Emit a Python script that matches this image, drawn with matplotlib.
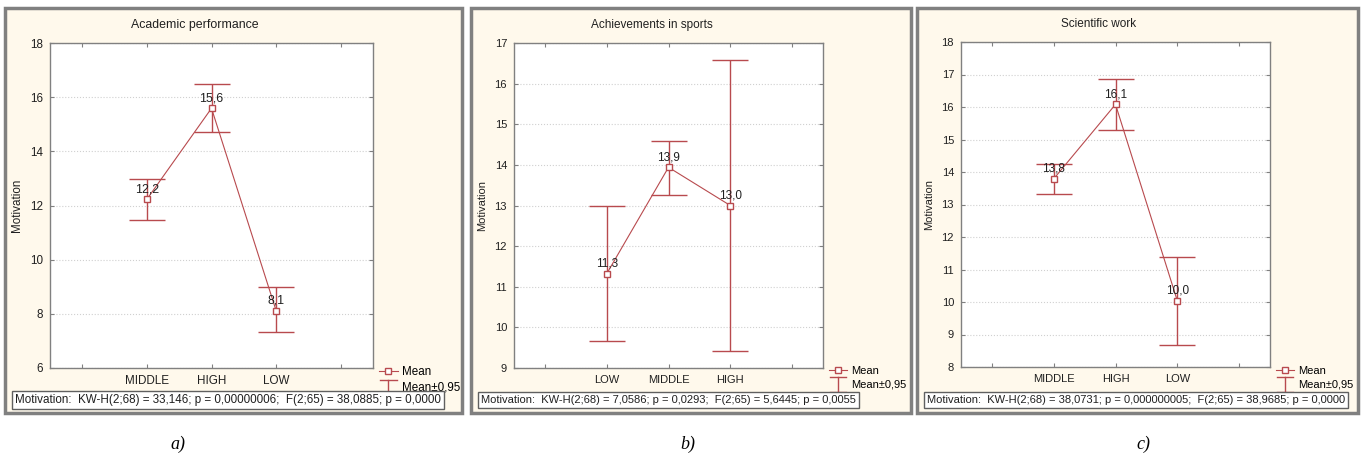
import matplotlib
matplotlib.use("Agg")
import matplotlib.pyplot as plt
from matplotlib.lines import Line2D
from matplotlib.patches import Rectangle
from matplotlib.legend_handler import HandlerBase

plt.rcParams['font.family'] = ['Liberation Sans', 'DejaVu Sans']

## data
titles = ["Academic performance", "Achievements in sports", "Scientific work"]
groups = [["MIDDLE", "HIGH", "LOW"],
          ["LOW", "MIDDLE", "HIGH"],
          ["MIDDLE", "HIGH", "LOW"]]
means = [[12.23, 15.59, 8.12],
         [11.32, 13.94, 13.00],
         [13.79, 16.08, 10.04]]
ci_low = [[11.45, 14.70, 7.32],
          [9.66, 13.25, 9.42],
          [13.31, 15.28, 8.68]]
ci_high = [[12.98, 16.47, 8.99],
           [12.98, 14.59, 16.58],
           [14.25, 16.86, 11.40]]
ylims = [(6, 18), (9, 17), (8, 18)]
ysteps = [2, 1, 1]
stats = ["Motivation:  KW-H(2;68) = 33,146; p = 0,00000006;  F(2;65) = 38,0885; p = 0,0000",
         "Motivation:  KW-H(2;68) = 7,0586; p = 0,0293;  F(2;65) = 5,6445; p = 0,0055",
         "Motivation:  KW-H(2;68) = 38,0731; p = 0,000000005;  F(2;65) = 38,9685; p = 0,0000"]
captions = ["a)", "b)", "c)"]

## layout in pixels
W, H = 1364, 458
frames = [(5, 8, 462, 413), (471, 8, 911, 413), (917, 8, 1358, 413)]
axboxes = [(50, 43, 373, 368), (514, 43, 823, 368), (961, 42, 1270, 367)]
caption_x = [178, 688, 1143]
scale = [1.05, 1.0, 1.0]   # panel a was pasted a little larger

red = '#B84A4E'
cream = '#FFF9EC'
gray = '#808080'
ink = '#202020'


class CapHandler(HandlerBase):
    # vertical bar with two caps, like the "Mean±0,95" key
    def create_artists(self, legend, orig, xd, yd, width, height, fontsize, trans):
        cx = width / 2 - xd
        top = height - yd + 2
        bot = -yd - 3
        half = 6
        arts = [Line2D([cx, cx], [bot, top]),
                Line2D([cx - half, cx + half], [top, top]),
                Line2D([cx - half, cx + half], [bot, bot])]
        for a in arts:
            a.set_color(red)
            a.set_linewidth(1)
            a.set_transform(trans)
        return arts


fig = plt.figure(figsize=(W / 100, H / 100), dpi=100)

def fr(x0, y0, x1, y1):
    return [x0 / W, 1 - y1 / H, (x1 - x0) / W, (y1 - y0) / H]

for i in range(3):
    k = scale[i]
    # panel background
    fx0, fy0, fx1, fy1 = frames[i]
    l, b, w, h = fr(fx0, fy0, fx1, fy1)
    fig.patches.append(Rectangle((l, b), w, h, transform=fig.transFigure,
                                 facecolor=cream, edgecolor=gray, lw=2.5, zorder=-10))

    x0, y0, x1, y1 = axboxes[i]
    ax = fig.add_axes(fr(x0, y0, x1, y1))
    ax.set_facecolor('white')
    xs = [1, 2, 3]
    ax.errorbar(xs, means[i],
                yerr=[[m - lo for m, lo in zip(means[i], ci_low[i])],
                      [hi - m for m, hi in zip(means[i], ci_high[i])]],
                fmt='none', ecolor=red, elinewidth=1, capsize=13, capthick=1, zorder=3)
    ax.plot(xs, means[i], color=red, lw=0.8, marker='s', ms=5,
            mfc='white', mec=red, mew=1, zorder=4)
    for x, m in zip(xs, means[i]):
        ax.annotate(f"{m:.1f}".replace('.', ','), (x, m), xytext=(0, 3),
                    textcoords='offset points', ha='center', va='bottom',
                    fontsize=8.5 * k, color=ink, zorder=5)

    ax.set_xlim(-0.5, 4.5)
    ax.set_xticks([0, 1, 2, 3, 4])
    ax.set_xticklabels([''] + groups[i] + [''])
    lo, hi = ylims[i]
    ax.set_ylim(lo, hi)
    ax.set_yticks(range(lo, hi + 1, ysteps[i]))
    ax.grid(axis='y', color='#D0D0D0', ls=':', lw=0.8)
    ax.tick_params(direction='in', top=True, right=True, length=3,
                   color=gray, labelsize=8 * k, labelcolor=ink, pad=5)
    for s in ax.spines.values():
        s.set_color(gray)
        s.set_linewidth(1)

    axw = x1 - x0
    ax.set_title(titles[i], fontsize=8.5 * k, x=0.5 - 17 / axw, pad=11, color=ink)
    ax.set_ylabel("Motivation", fontsize=8 * k, color=ink)
    ax.yaxis.set_label_coords(-27 / axw, 0.5)

    # legend
    hm = Line2D([], [], color=red, marker='s', ms=5, mfc='white', mec=red, lw=0.8)
    he = Line2D([], [], color=red)
    ax.legend([hm, he], ["Mean", "Mean±0,95"], loc='upper left',
              bbox_to_anchor=((x1 + 6) / W, 1 - 366 / H),
              bbox_transform=fig.transFigure, frameon=False, fontsize=8 * k,
              borderpad=0, borderaxespad=0, handlelength=1.6,
              handletextpad=0.4, labelspacing=0.3,
              handler_map={he: CapHandler()})

    # statistics box
    fig.text((fx0 + 10) / W, 1 - 400 / H, stats[i], fontsize=8.0 * k, color=ink,
             ha='left', va='center', zorder=5,
             bbox=dict(boxstyle='square,pad=0.25', fc='white', ec='#606060', lw=1))

    fig.text(caption_x[i] / W, 1 - 444 / H, captions[i], fontsize=13,
             family='Liberation Serif', style='italic', ha='center', va='center')

fig.savefig("out.png", dpi=100, facecolor='white')
